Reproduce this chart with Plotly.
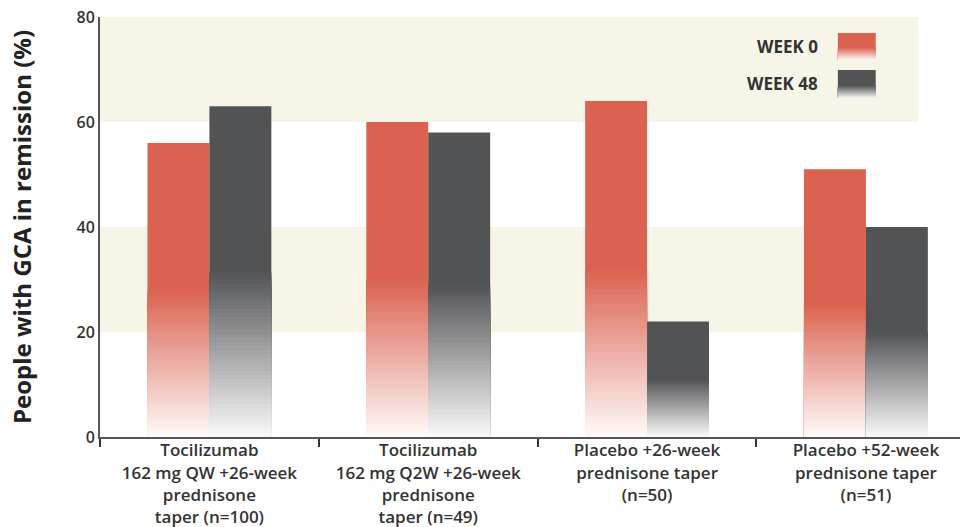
import plotly.graph_objects as go

categories = [
    "Tocilizumab<br>162 mg QW +26-week<br>prednisone<br>taper (n=100)",
    "Tocilizumab<br>162 mg Q2W +26-week<br>prednisone<br>taper (n=49)",
    "Placebo +26-week<br>prednisone taper<br>(n=50)",
    "Placebo +52-week<br>prednisone taper<br>(n=51)",
]
week0 = [56, 60, 64, 51]
week48 = [63, 58, 22, 40]
series_names = ["WEEK 0", "WEEK 48"]
y_ticks = [0, 20, 40, 60, 80]

RED = (219, 98, 80)
DARK = (82, 83, 85)
BAND = "#F7F4E8"
N = 40


def mix(c, f):
    r, g, b = [round(255 + (ci - 255) * f) for ci in c]
    return f"rgb({r},{g},{b})"


fig = go.Figure()
for name, vals, col in [(series_names[0], week0, RED), (series_names[1], week48, DARK)]:
    fig.add_trace(go.Bar(x=categories, y=vals, offsetgroup=name, marker_color=mix(col, 1),
                         marker_line_width=0, showlegend=False, hoverinfo="skip", name=name))
    for j in range(1, N + 1):
        h = [v * 0.5 * (N - j + 1) / N for v in vals]
        f = 0.03 + 0.97 * (N - j + 0.5) / N
        fig.add_trace(go.Bar(x=categories, y=h, offsetgroup=name, marker_color=mix(col, f),
                             marker_line_width=0, showlegend=False, hoverinfo="skip"))

shapes = []
# background bands
for lo, hi in [(20, 40), (60, 80)]:
    shapes.append(dict(type="rect", xref="paper", yref="y", x0=0, x1=0.951, y0=lo, y1=hi,
                       fillcolor=BAND, line_width=0, layer="below"))

# legend swatches with gradient
annotations = []
sw_x0, sw_x1 = 0.858, 0.902
for (name, col, ytop, ybot) in [(series_names[0], RED, 0.962, 0.898), (series_names[1], DARK, 0.874, 0.807)]:
    hgt = ytop - ybot
    shapes.append(dict(type="rect", xref="paper", yref="paper", x0=sw_x0, x1=sw_x1, y0=ybot, y1=ytop,
                       fillcolor=mix(col, 1), line_width=0))
    M = 16
    for j in range(1, M + 1):
        top = ybot + hgt * 0.45 * (M - j + 1) / M
        f = 0.05 + 0.95 * (M - j + 0.5) / M
        shapes.append(dict(type="rect", xref="paper", yref="paper", x0=sw_x0, x1=sw_x1, y0=ybot, y1=top,
                           fillcolor=mix(col, f), line_width=0))
    annotations.append(dict(xref="paper", yref="paper", x=0.837, y=(ytop + ybot) / 2, text=name,
                            showarrow=False, xanchor="right", yanchor="middle",
                            font=dict(size=17, color="#333333", family="Open Sans", weight=700)))

fig.update_layout(
    width=960, height=527,
    margin=dict(l=100, r=0, t=17, b=90),
    paper_bgcolor="white", plot_bgcolor="white",
    barmode="group", bargap=0.434, bargroupgap=0,
    font=dict(family="Open Sans", color="#333333"),
    shapes=shapes, annotations=annotations,
    showlegend=False,
)
fig.update_xaxes(
    type="category", range=[-0.5, 3.43], automargin=False,
    showline=True, linecolor="#555555", linewidth=2,
    tickson="boundaries", ticks="outside", ticklen=8, tickcolor="#333333", tickwidth=2,
    tickfont=dict(size=17, color="#333333", family="Open Sans", weight=600),
    ticklabeloverflow="allow", ticklabelstandoff=-3,
    showgrid=False, zeroline=False,
)
fig.update_yaxes(
    range=[0, 80], tickvals=y_ticks, showline=True, linecolor="#555555", linewidth=2,
    ticks="", showgrid=False, zeroline=False, automargin=False,
    ticklabeloverflow="allow",
    tickfont=dict(size=16, color="#333333", family="Open Sans", weight=600),
    title=dict(text="People with GCA in remission (%)", standoff=38,
               font=dict(size=24, color="#222222", family="Open Sans", weight=700)),
)

# remove the default 8px page margin so the 960x527 figure fills the window exactly
fig.write_html("out.html", config={"displayModeBar": False},
               post_script="document.body.style.margin='0';")
